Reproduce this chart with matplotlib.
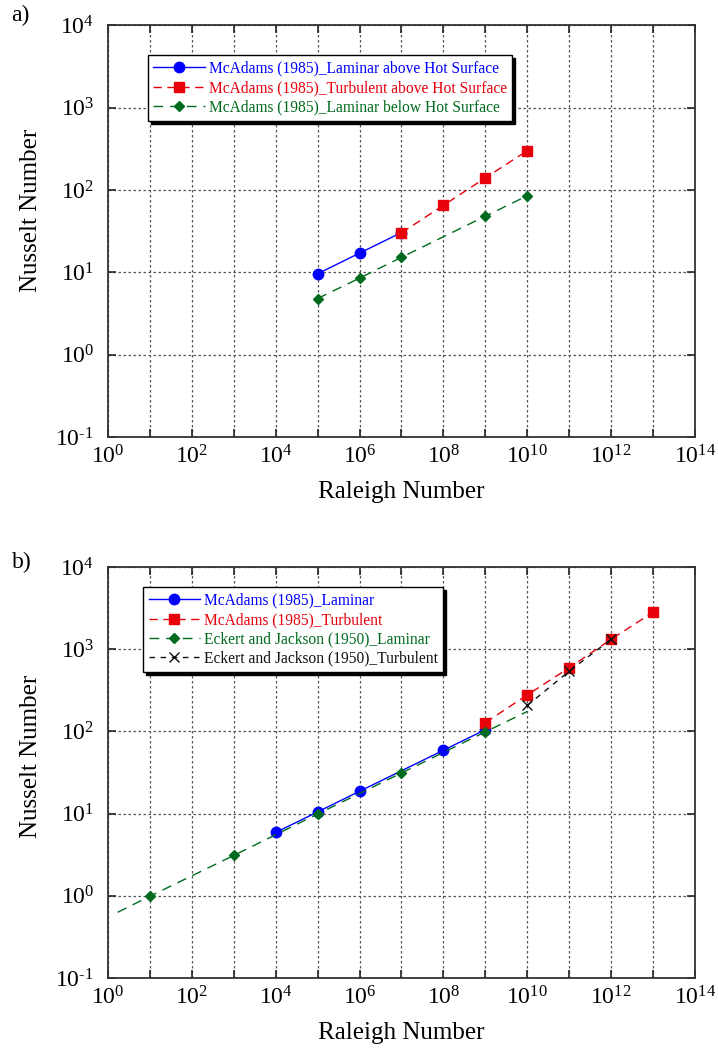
import numpy as np
import matplotlib.pyplot as plt
from matplotlib.ticker import FixedLocator, FuncFormatter, NullLocator

plt.rcParams['font.family'] = ['Liberation Serif', 'DejaVu Serif']
plt.rcParams['mathtext.fontset'] = 'custom'
plt.rcParams['mathtext.rm'] = 'Liberation Serif'
plt.rcParams['mathtext.it'] = 'Liberation Serif'

# panel a) data
ra_a_lam = [1e5, 1e6, 1e7]
nu_a_lam = [9.6, 17.1, 30.4]
ra_a_turb = [1e7, 1e8, 1e9, 1e10]
nu_a_turb = [30.2, 65.0, 140.0, 300.0]
ra_a_below = [1e5, 1e6, 1e7, 1e9, 1e10]
nu_a_below = [4.8, 8.5, 15.2, 48.0, 85.0]

# panel b) data
ra_b_mc_lam = [1e4, 1e5, 1e6, 1e8, 1e9]
nu_b_mc_lam = [5.9, 10.5, 18.7, 59.0, 105.0]
ra_b_mc_turb = [1e9, 1e10, 1e11, 1e12, 1e13]
nu_b_mc_turb = [128.0, 278.0, 595.0, 1320.0, 2820.0]
ra_b_ej_lam = [1.7, 1e1, 1e3, 1e5, 1e7, 1e9, 1e10]
nu_b_ej_lam = [0.63, 0.99, 3.1, 9.9, 31.2, 98.7, 175.0]
ra_b_ej_turb = [1e10, 1e11, 1e12]
nu_b_ej_turb = [207.0, 540.0, 1325.0]

BLUE = '#0000ff'
RED = '#e8000b'
GREEN = '#006b1e'
BLACK = '#111111'


def exp_label(v):
    k = int(round(np.log10(v)))
    if k < 0:
        return r'$10^{\text{-}%d}$' % -k
    return r'$10^{%d}$' % k


def style_axes(ax, ylab_pos):
    ax.set_xscale('log')
    ax.set_yscale('log')
    ax.set_xlim(1e0, 1e14)
    ax.set_ylim(1e-1, 1e4)
    ax.xaxis.set_major_locator(FixedLocator([10.0 ** k for k in range(0, 15)]))
    ax.yaxis.set_major_locator(FixedLocator([10.0 ** k for k in range(-1, 5)]))
    ax.xaxis.set_minor_locator(NullLocator())
    ax.yaxis.set_minor_locator(NullLocator())
    ax.xaxis.set_major_formatter(FuncFormatter(
        lambda v, p: exp_label(v) if int(round(np.log10(v))) % 2 == 0 else ''))
    ax.yaxis.set_major_formatter(FuncFormatter(lambda v, p: exp_label(v)))
    ax.tick_params(which='major', direction='in', length=6, width=1.2, top=True, right=True,
                   labelsize=17, color='#222222')
    ax.tick_params(axis='x', pad=6)
    ax.tick_params(axis='y', pad=10)
    ax.grid(True, which='major', linestyle=(0, (2, 2)), color='#555555', linewidth=0.9)
    for s in ax.spines.values():
        s.set_linewidth(1.3)
        s.set_color('#333333')
    ax.set_xlabel('Raleigh Number', fontsize=18, labelpad=9)
    ax.set_ylabel('Nusselt Number', fontsize=18)
    ax.yaxis.set_label_coords(-0.112, ylab_pos)


def make_legend(ax, anchor, colors):
    leg = ax.legend(loc='upper left', bbox_to_anchor=anchor, fontsize=11.2, frameon=True,
                    fancybox=False, shadow={'color': 'black', 'alpha': 1.0},
                    borderaxespad=0, handlelength=3.3, handletextpad=0.25,
                    labelspacing=0.22, borderpad=0.35)
    leg.get_frame().set_edgecolor('black')
    leg.get_frame().set_linewidth(1.0)
    for t, c in zip(leg.get_texts(), colors):
        t.set_color(c)
    return leg


fig = plt.figure(figsize=(7.18, 10.53), dpi=100)
ax1 = fig.add_axes([0.1504, 0.585, 0.8175, 0.391])
ax2 = fig.add_axes([0.1504, 0.0712, 0.8175, 0.3903])

# a)
ax1.plot(ra_a_lam, nu_a_lam, '-', color=BLUE, marker='o', markersize=7.5, linewidth=1.0,
         label='McAdams (1985)_Laminar above Hot Surface')
ax1.plot(ra_a_turb, nu_a_turb, color=RED, linestyle=(0, (6, 4)), marker='s', markersize=7,
         linewidth=1.0, label='McAdams (1985)_Turbulent above Hot Surface')
ax1.plot(ra_a_below, nu_a_below, color=GREEN, linestyle=(0, (7, 5)), marker='D', markersize=5,
         linewidth=1.0, label='McAdams (1985)_Laminar below Hot Surface')
style_axes(ax1, 0.55)
make_legend(ax1, (0.068, 0.927), [BLUE, RED, GREEN])

# b)
ax2.plot(ra_b_mc_lam, nu_b_mc_lam, '-', color=BLUE, marker='o', markersize=7.5, linewidth=1.0,
         label='McAdams (1985)_Laminar')
ax2.plot(ra_b_mc_turb, nu_b_mc_turb, color=RED, linestyle=(0, (6, 4)), marker='s', markersize=7,
         linewidth=1.0, label='McAdams (1985)_Turbulent')
ax2.plot(ra_b_ej_lam, nu_b_ej_lam, color=GREEN, linestyle=(0, (7, 5)), marker='D', markersize=5,
         markevery=[1, 2, 3, 4, 5], linewidth=1.0, label='Eckert and Jackson (1950)_Laminar')
ax2.plot(ra_b_ej_turb, nu_b_ej_turb, color=BLACK, linestyle=(0, (4, 4)), marker='x', markersize=7,
         linewidth=1.0, label='Eckert and Jackson (1950)_Turbulent')
style_axes(ax2, 0.54)
make_legend(ax2, (0.06, 0.951), [BLUE, RED, GREEN, BLACK])

fig.text(0.016, 0.985, 'a)', fontsize=17, va='center')
fig.text(0.016, 0.466, 'b)', fontsize=17, va='center')

fig.savefig('out.png', dpi=100)
